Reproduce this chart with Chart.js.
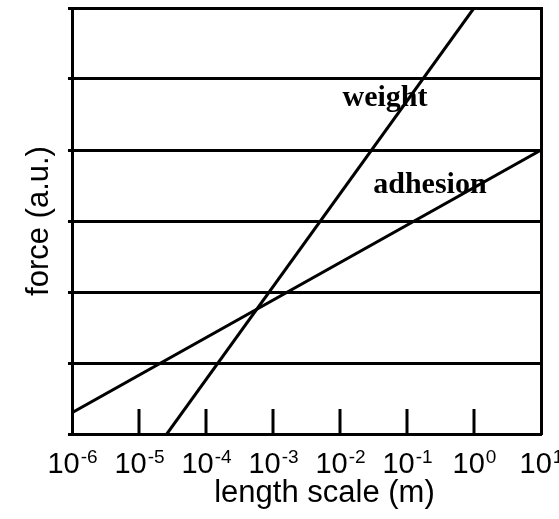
<!DOCTYPE html>
<html>
<head>
<meta charset="utf-8">
<script src="https://cdn.jsdelivr.net/npm/chart.js@4.4.1/dist/chart.umd.min.js"></script>
<style>
  html, body { margin: 0; padding: 0; background: #fff; }
  #wrap { width: 559px; height: 519px; }
</style>
</head>
<body>
<div id="wrap"><canvas id="myChart"></canvas></div>
<script>
// ------------------------------------------------------------------
// DATA (x in metres, y in arbitrary units)
const weightX = [2.6e-5, 1.0];
const weightY = [0, 6];
const adhesionX = [1e-6, 10];
const adhesionY = [0.3, 4.0];

const tickExponents = [-6, -5, -4, -3, -2, -1, 0, 1];

const seriesNames = ['weight', 'adhesion'];
const nameX = [0.047, 0.22];
const nameY = [4.62, 3.4];

const xTitle = 'length scale (m)';
const yTitle = 'force (a.u.)';
// ------------------------------------------------------------------

const SANS = '"Liberation Sans", Arial, sans-serif';
const SERIF = '"Liberation Serif", "Times New Roman", serif';

function toPoints(xs, ys) {
  return xs.map((v, i) => ({ x: v, y: ys[i] }));
}

// ------------------------------------------------------------------
// plugin: inward ticks, 10^n labels, axis titles, in-plot names
const decorPlugin = {
  id: 'decor',
  beforeDatasetsDraw(chart) {
    const { ctx, scales: { x, y } } = chart;
    ctx.save();
    ctx.fillStyle = '#000';
    ctx.font = 'bold 30px ' + SERIF;
    ctx.textAlign = 'center';
    ctx.textBaseline = 'alphabetic';
    seriesNames.forEach((name, i) => {
      ctx.fillText(name, x.getPixelForValue(nameX[i]), y.getPixelForValue(nameY[i]));
    });
    ctx.restore();
  },
  afterDraw(chart) {
    const { ctx, chartArea, scales: { x } } = chart;
    ctx.save();

    // ticks pointing up into the plot
    ctx.strokeStyle = '#000';
    ctx.lineWidth = 3;
    tickExponents.slice(1, -1).forEach(e => {
      const px = x.getPixelForValue(Math.pow(10, e));
      ctx.beginPath();
      ctx.moveTo(px, chartArea.bottom);
      ctx.lineTo(px, chartArea.bottom - 25);
      ctx.stroke();
    });

    // tick labels 10^n
    ctx.fillStyle = '#000';
    ctx.textAlign = 'left';
    ctx.textBaseline = 'alphabetic';
    const base = chartArea.bottom + 39;
    tickExponents.forEach(e => {
      const px = x.getPixelForValue(Math.pow(10, e));
      const expText = String(e);
      ctx.font = '29px ' + SANS;
      const w1 = ctx.measureText('10').width;
      ctx.font = '19px ' + SANS;
      const w2 = ctx.measureText(expText).width;
      const left = px - (w1 + w2) / 2;
      ctx.font = '29px ' + SANS;
      ctx.fillText('10', left, base);
      ctx.font = '19px ' + SANS;
      ctx.fillText(expText, left + w1 + 1, base - 10);
    });

    // axis titles
    ctx.font = '31px ' + SANS;
    ctx.textAlign = 'center';
    ctx.fillText(xTitle, (chartArea.left + chartArea.right) / 2 + 18, chartArea.bottom + 68);

    ctx.translate(48, (chartArea.top + chartArea.bottom) / 2);
    ctx.rotate(-Math.PI / 2);
    ctx.fillText(yTitle, 0, 0);

    ctx.restore();
  }
};
// ------------------------------------------------------------------

const ctx = document.getElementById('myChart');

const config = {
  type: 'line',
  data: {
    datasets: [
      {
        label: 'weight',
        data: toPoints(weightX, weightY),
        borderColor: '#000',
        borderWidth: 3,
        pointRadius: 0,
        tension: 0,
      },
      {
        label: 'adhesion',
        data: toPoints(adhesionX, adhesionY),
        borderColor: '#000',
        borderWidth: 3,
        pointRadius: 0,
        tension: 0,
      },
    ],
  },
  options: {
    responsive: true,
    maintainAspectRatio: false,
    animation: false,
    events: [],
    layout: { padding: { top: 8, left: 0, right: 0, bottom: 0 } },
    plugins: {
      legend: { display: false },
      tooltip: { enabled: false },
    },
    scales: {
      x: {
        type: 'logarithmic',
        min: 1e-6,
        max: 10,
        grid: { display: false },
        ticks: { display: false },
        border: { display: true, color: '#000', width: 3 },
        afterFit: (scale) => { scale.height = 85; },
      },
      y: {
        type: 'linear',
        min: 0,
        max: 6,
        ticks: { display: false, stepSize: 1 },
        grid: { color: '#000', lineWidth: 3, tickLength: 4, drawTicks: true },
        border: { display: true, color: '#000', width: 3 },
        afterFit: (scale) => { scale.width = 72; },
      },
      y2: {
        type: 'linear',
        position: 'right',
        display: true,
        min: 0,
        max: 6,
        grid: { display: false },
        ticks: { display: false },
        border: { display: true, color: '#000', width: 3 },
        afterFit: (scale) => { scale.width = 18; },
      },
    },
  },
  plugins: [decorPlugin],
};

const myChart = new Chart(ctx, config);
</script>
</body>
</html>
